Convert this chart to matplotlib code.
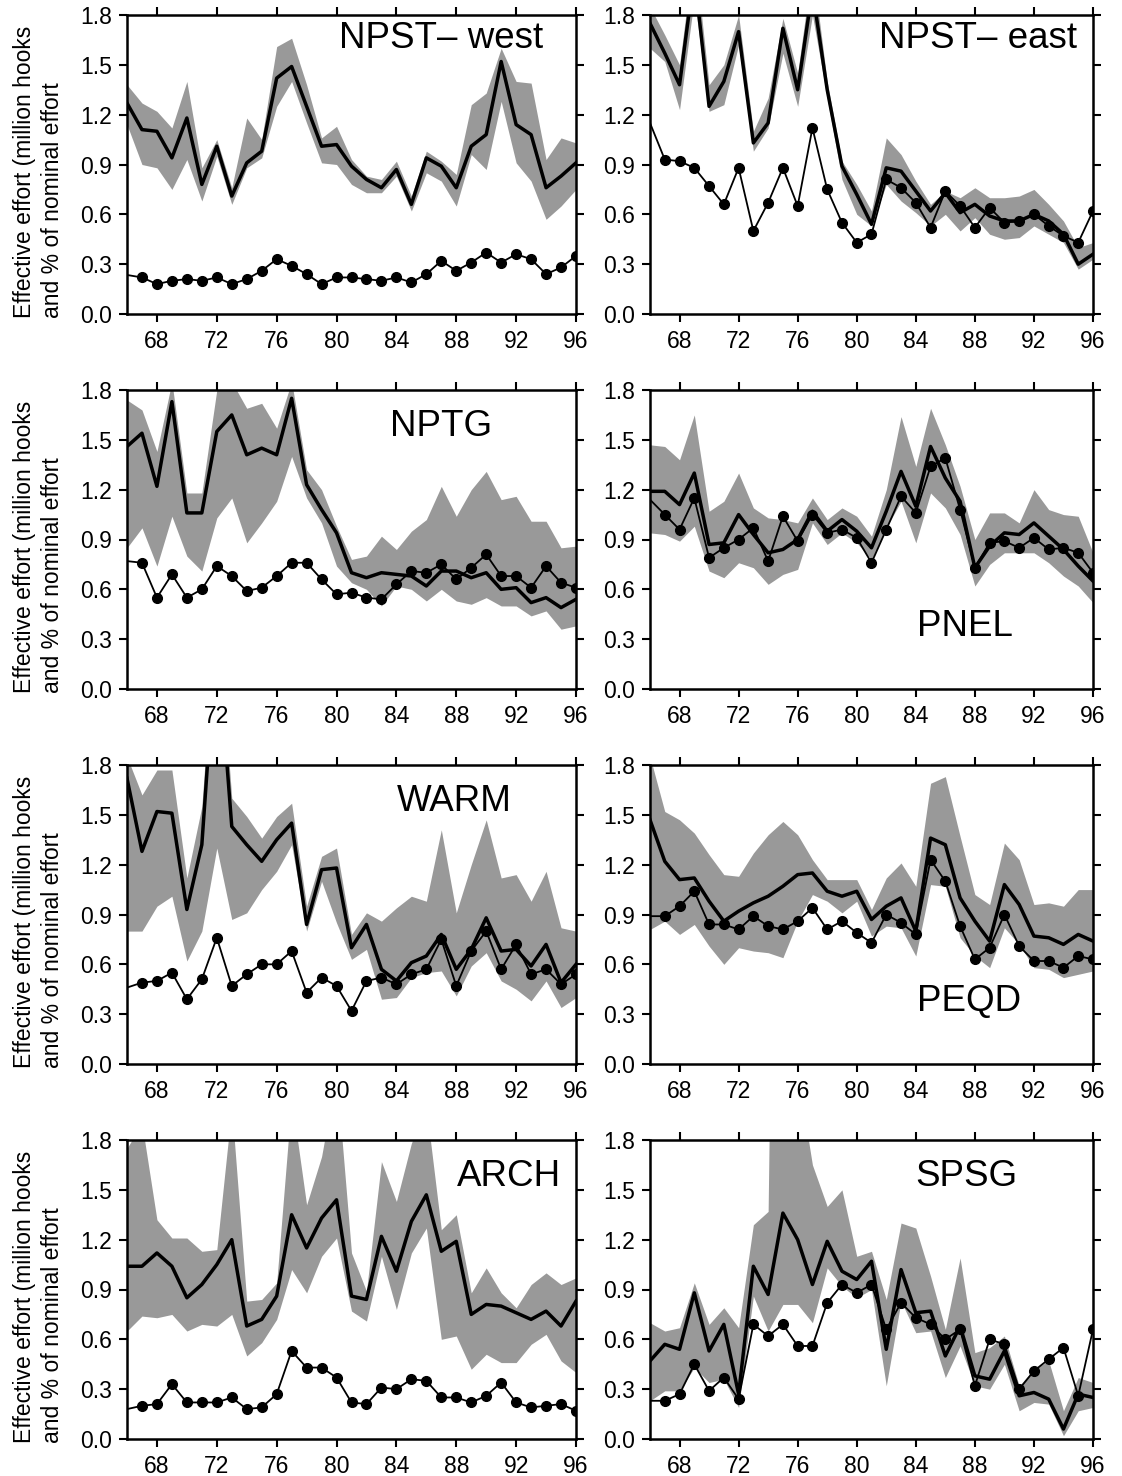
import matplotlib
matplotlib.use("Agg")
import matplotlib.pyplot as plt
from matplotlib.ticker import FormatStrFormatter

plt.rcParams["font.family"] = ["Liberation Sans", "DejaVu Sans"]

YEARS = list(range(66, 97))

# Each region: band low / band high, effective effort (thick line), nominal effort (dots)
npst_west_lo = [1.14, 0.90, 0.88, 0.75, 0.93, 0.68, 0.95, 0.66, 0.88, 0.94, 1.25, 1.40, 1.15, 0.91, 0.90, 0.78,
                0.73, 0.73, 0.83, 0.62, 0.85, 0.80, 0.65, 0.96, 0.87, 1.28, 0.91, 0.80, 0.57, 0.65, 0.75]
npst_west_hi = [1.38, 1.27, 1.22, 1.12, 1.40, 0.88, 1.05, 0.76, 1.18, 1.05, 1.61, 1.66, 1.38, 1.06, 1.13, 0.93,
                0.83, 0.81, 0.92, 0.71, 0.98, 0.92, 0.84, 1.26, 1.33, 1.60, 1.40, 1.39, 0.93, 1.06, 1.03]
npst_west_eff = [1.27, 1.11, 1.10, 0.94, 1.18, 0.78, 1.01, 0.71, 0.91, 0.98, 1.42, 1.49, 1.25, 1.01, 1.02, 0.89,
                 0.81, 0.76, 0.87, 0.66, 0.94, 0.89, 0.76, 1.01, 1.08, 1.52, 1.14, 1.08, 0.76, 0.83, 0.91]
npst_west_nom = [0.235, 0.22, 0.18, 0.20, 0.21, 0.20, 0.22, 0.18, 0.21, 0.26, 0.33, 0.29, 0.24, 0.18, 0.22, 0.22,
                 0.21, 0.20, 0.22, 0.19, 0.24, 0.32, 0.26, 0.31, 0.37, 0.31, 0.36, 0.33, 0.24, 0.28, 0.35]

npst_east_lo = [1.60, 1.52, 1.23, 1.90, 1.22, 1.26, 1.62, 0.98, 1.12, 1.57, 1.25, 1.80, 1.30, 0.81, 0.60, 0.53,
                0.78, 0.68, 0.61, 0.53, 0.60, 0.50, 0.58, 0.48, 0.45, 0.46, 0.53, 0.48, 0.43, 0.27, 0.33]
npst_east_hi = [1.85, 1.68, 1.50, 2.20, 1.38, 1.50, 1.80, 1.10, 1.30, 1.78, 1.45, 2.10, 1.40, 0.92, 0.78, 0.62,
                1.06, 0.96, 0.80, 0.66, 0.74, 0.70, 0.76, 0.70, 0.70, 0.71, 0.75, 0.66, 0.56, 0.40, 0.43]
npst_east_eff = [1.75, 1.57, 1.38, 2.05, 1.25, 1.40, 1.70, 1.03, 1.15, 1.72, 1.35, 1.95, 1.35, 0.89, 0.72, 0.54,
                 0.88, 0.86, 0.74, 0.62, 0.73, 0.61, 0.66, 0.59, 0.56, 0.56, 0.60, 0.56, 0.48, 0.30, 0.36]
npst_east_nom = [1.15, 0.93, 0.92, 0.88, 0.77, 0.66, 0.88, 0.50, 0.67, 0.88, 0.65, 1.12, 0.75, 0.55, 0.43, 0.48,
                 0.81, 0.76, 0.67, 0.52, 0.74, 0.65, 0.52, 0.64, 0.55, 0.56, 0.60, 0.53, 0.47, 0.43, 0.62]

nptg_lo = [0.85, 0.97, 0.74, 1.04, 0.80, 0.71, 1.03, 1.15, 0.88, 1.00, 1.13, 1.40, 1.15, 1.00, 0.74, 0.64,
           0.60, 0.50, 0.62, 0.60, 0.53, 0.60, 0.53, 0.51, 0.55, 0.50, 0.50, 0.44, 0.47, 0.36, 0.38]
nptg_hi = [1.74, 1.68, 1.43, 1.85, 1.18, 1.18, 1.80, 1.85, 1.69, 1.72, 1.57, 1.85, 1.32, 1.20, 0.98, 0.78,
           0.80, 0.92, 0.84, 0.95, 1.02, 1.22, 1.04, 1.20, 1.31, 1.14, 1.16, 1.01, 1.01, 0.85, 0.86]
nptg_eff = [1.46, 1.54, 1.22, 1.73, 1.06, 1.06, 1.55, 1.65, 1.41, 1.45, 1.41, 1.75, 1.23, 1.08, 0.94, 0.70,
            0.67, 0.70, 0.69, 0.68, 0.62, 0.71, 0.71, 0.67, 0.70, 0.60, 0.61, 0.52, 0.55, 0.49, 0.54]
nptg_nom = [0.77, 0.76, 0.55, 0.69, 0.55, 0.60, 0.74, 0.68, 0.59, 0.61, 0.68, 0.76, 0.76, 0.66, 0.57, 0.58,
            0.55, 0.54, 0.63, 0.71, 0.70, 0.75, 0.66, 0.73, 0.81, 0.68, 0.68, 0.61, 0.74, 0.64, 0.61]

pnel_lo = [0.94, 0.93, 0.89, 0.98, 0.71, 0.67, 0.76, 0.73, 0.63, 0.69, 0.72, 1.00, 0.87, 0.94, 0.88, 0.78,
           0.97, 1.13, 0.88, 1.18, 1.09, 0.93, 0.62, 0.75, 0.82, 0.82, 0.82, 0.76, 0.68, 0.62, 0.52]
pnel_hi = [1.47, 1.46, 1.38, 1.65, 1.07, 1.13, 1.30, 1.09, 1.03, 1.02, 1.00, 1.15, 1.02, 1.09, 1.04, 0.92,
           1.20, 1.64, 1.34, 1.69, 1.47, 1.22, 0.90, 1.06, 1.06, 1.00, 1.20, 1.08, 1.05, 1.04, 0.82]
pnel_eff = [1.19, 1.19, 1.11, 1.30, 0.87, 0.88, 1.05, 0.93, 0.82, 0.84, 0.90, 1.07, 0.95, 1.02, 0.95, 0.85,
            1.07, 1.31, 1.10, 1.46, 1.27, 1.13, 0.73, 0.86, 0.94, 0.93, 1.00, 0.92, 0.84, 0.74, 0.65]
pnel_nom = [1.14, 1.05, 0.96, 1.15, 0.79, 0.85, 0.90, 0.97, 0.77, 1.04, 0.89, 1.05, 0.94, 0.96, 0.91, 0.76,
            0.96, 1.16, 1.06, 1.34, 1.39, 1.08, 0.73, 0.88, 0.89, 0.85, 0.91, 0.84, 0.85, 0.82, 0.70]

warm_lo = [0.80, 0.80, 0.95, 1.01, 0.62, 0.80, 1.30, 0.87, 0.91, 1.05, 1.16, 1.32, 0.80, 1.10, 0.85, 0.63,
           0.69, 0.39, 0.40, 0.52, 0.55, 0.56, 0.41, 0.59, 0.67, 0.50, 0.45, 0.38, 0.50, 0.34, 0.40]
warm_hi = [1.85, 1.62, 1.77, 1.77, 1.12, 1.55, 2.80, 1.60, 1.49, 1.36, 1.49, 1.57, 0.95, 1.25, 1.30, 0.78,
           0.91, 0.86, 0.94, 1.01, 0.98, 1.41, 0.91, 1.20, 1.47, 1.12, 1.14, 0.98, 1.16, 0.82, 0.80]
warm_eff = [1.72, 1.28, 1.52, 1.51, 0.93, 1.32, 2.60, 1.43, 1.32, 1.22, 1.35, 1.45, 0.84, 1.17, 1.18, 0.70,
            0.84, 0.57, 0.50, 0.61, 0.65, 0.78, 0.57, 0.69, 0.88, 0.68, 0.69, 0.59, 0.72, 0.49, 0.60]
warm_nom = [0.46, 0.49, 0.50, 0.55, 0.39, 0.51, 0.76, 0.47, 0.54, 0.60, 0.60, 0.68, 0.43, 0.52, 0.47, 0.32,
            0.50, 0.52, 0.48, 0.54, 0.57, 0.75, 0.47, 0.68, 0.80, 0.57, 0.72, 0.54, 0.57, 0.48, 0.54]

peqd_lo = [0.81, 0.86, 0.78, 0.84, 0.71, 0.60, 0.70, 0.68, 0.67, 0.64, 0.86, 1.02, 0.98, 0.91, 0.98, 0.77,
           0.83, 0.82, 0.65, 1.08, 1.07, 0.76, 0.65, 0.58, 0.82, 0.72, 0.58, 0.57, 0.52, 0.54, 0.56]
peqd_hi = [1.85, 1.52, 1.47, 1.39, 1.26, 1.14, 1.13, 1.27, 1.38, 1.46, 1.38, 1.23, 1.11, 1.11, 1.11, 0.93,
           1.12, 1.21, 1.07, 1.69, 1.73, 1.37, 1.02, 0.96, 1.33, 1.23, 0.96, 0.97, 0.95, 1.05, 1.05]
peqd_eff = [1.47, 1.22, 1.11, 1.12, 0.98, 0.86, 0.92, 0.97, 1.01, 1.07, 1.14, 1.15, 1.04, 1.01, 1.04, 0.87,
            0.95, 1.00, 0.80, 1.36, 1.32, 1.00, 0.86, 0.74, 1.08, 0.96, 0.77, 0.76, 0.72, 0.78, 0.74]
peqd_nom = [0.89, 0.89, 0.95, 1.04, 0.84, 0.84, 0.81, 0.89, 0.83, 0.81, 0.86, 0.94, 0.81, 0.86, 0.79, 0.73,
            0.90, 0.85, 0.78, 1.23, 1.10, 0.83, 0.63, 0.70, 0.90, 0.71, 0.62, 0.62, 0.58, 0.65, 0.63]

arch_lo = [0.65, 0.74, 0.73, 0.75, 0.65, 0.69, 0.68, 0.75, 0.50, 0.58, 0.72, 1.02, 0.88, 1.10, 1.21, 0.77,
           0.71, 1.10, 0.78, 1.12, 1.27, 0.60, 0.62, 0.42, 0.51, 0.46, 0.46, 0.57, 0.63, 0.47, 0.40]
arch_hi = [1.75, 1.90, 1.32, 1.21, 1.21, 1.13, 1.14, 2.00, 0.83, 0.84, 0.94, 2.05, 1.41, 1.70, 2.20, 1.12,
           0.89, 1.67, 1.43, 1.78, 2.00, 1.26, 1.35, 0.88, 1.03, 0.88, 0.79, 0.93, 1.00, 0.93, 0.97]
arch_eff = [1.04, 1.04, 1.12, 1.04, 0.85, 0.93, 1.05, 1.20, 0.68, 0.72, 0.86, 1.35, 1.15, 1.33, 1.44, 0.86,
            0.84, 1.22, 1.01, 1.31, 1.47, 1.13, 1.19, 0.75, 0.81, 0.80, 0.76, 0.72, 0.77, 0.68, 0.83]
arch_nom = [0.18, 0.20, 0.21, 0.33, 0.22, 0.22, 0.22, 0.25, 0.18, 0.19, 0.27, 0.53, 0.43, 0.43, 0.37, 0.22,
            0.21, 0.31, 0.30, 0.36, 0.35, 0.25, 0.25, 0.22, 0.26, 0.34, 0.22, 0.19, 0.20, 0.21, 0.17]

spsg_lo = [0.23, 0.29, 0.29, 0.43, 0.34, 0.36, 0.19, 0.86, 0.65, 0.81, 0.81, 0.70, 1.03, 0.92, 0.85, 0.90,
           0.32, 0.83, 0.64, 0.65, 0.37, 0.56, 0.32, 0.30, 0.45, 0.17, 0.22, 0.21, 0.02, 0.17, 0.19]
spsg_hi = [0.70, 0.65, 0.67, 0.94, 0.69, 0.79, 0.67, 1.29, 1.37, 8.00, 2.20, 1.65, 1.40, 1.50, 1.10, 1.13,
           0.84, 1.30, 1.27, 0.98, 0.66, 1.09, 0.52, 0.55, 0.62, 0.32, 0.42, 0.47, 0.17, 0.37, 0.34]
spsg_eff = [0.47, 0.57, 0.54, 0.88, 0.53, 0.69, 0.27, 1.04, 0.87, 1.36, 1.20, 0.93, 1.19, 1.01, 0.96, 1.07,
            0.54, 1.02, 0.76, 0.77, 0.50, 0.68, 0.38, 0.36, 0.53, 0.26, 0.28, 0.24, 0.06, 0.27, 0.25]
spsg_nom = [0.23, 0.23, 0.27, 0.45, 0.29, 0.37, 0.24, 0.69, 0.62, 0.69, 0.56, 0.56, 0.82, 0.93, 0.88, 0.93,
            0.66, 0.82, 0.73, 0.69, 0.60, 0.66, 0.32, 0.60, 0.57, 0.30, 0.41, 0.48, 0.55, 0.26, 0.66]

NAMES = ["NPST\u2013 west", "NPST\u2013 east", "NPTG", "PNEL", "WARM", "PEQD", "ARCH", "SPSG"]
SERIES = [
    (npst_west_lo, npst_west_hi, npst_west_eff, npst_west_nom),
    (npst_east_lo, npst_east_hi, npst_east_eff, npst_east_nom),
    (nptg_lo, nptg_hi, nptg_eff, nptg_nom),
    (pnel_lo, pnel_hi, pnel_eff, pnel_nom),
    (warm_lo, warm_hi, warm_eff, warm_nom),
    (peqd_lo, peqd_hi, peqd_eff, peqd_nom),
    (arch_lo, arch_hi, arch_eff, arch_nom),
    (spsg_lo, spsg_hi, spsg_eff, spsg_nom),
]
# where each region name sits, in axes fraction
LABEL_POS = [(0.70, 0.92), (0.74, 0.92), (0.70, 0.877), (0.71, 0.21),
             (0.73, 0.877), (0.72, 0.21), (0.85, 0.877), (0.715, 0.877)]

W, H = 1122, 1476
fig = plt.figure(figsize=(W / 100, H / 100), dpi=100)

col_x = [(127, 449), (650, 443)]
row_top = [15, 390, 765, 1140]
ax_h = 299

for i, (name, (lo, hi, eff, nom)) in enumerate(zip(NAMES, SERIES)):
    row, col = divmod(i, 2)
    x0, w = col_x[col]
    ax = fig.add_axes([x0 / W, 1 - (row_top[row] + ax_h) / H, w / W, ax_h / H])

    ax.fill_between(YEARS, lo, hi, color="#999999", lw=0)
    ax.plot(YEARS, eff, color="black", lw=2.5)
    ax.plot(YEARS, nom, color="black", lw=1.3, marker="o", ms=7, markevery=slice(1, None))

    ax.set_xlim(66, 96)
    ax.set_ylim(0, 1.8)
    ax.set_xticks(range(68, 97, 4))
    ax.set_yticks([0.0, 0.3, 0.6, 0.9, 1.2, 1.5, 1.8])
    ax.yaxis.set_major_formatter(FormatStrFormatter("%.1f"))
    ax.tick_params(direction="out", length=5.5, width=1.5, labelsize=16.5,
                   top=True, right=True)
    ax.tick_params(axis="y", pad=5)
    ax.tick_params(axis="x", pad=6)
    for sp in ax.spines.values():
        sp.set_linewidth(1.8)

    tx, ty = LABEL_POS[i]
    ax.text(tx, ty, name, transform=ax.transAxes, fontsize=26.5,
            ha="center", va="center")

    if col == 0:
        ax.set_ylabel("Effective effort (million hooks\nand % of nominal effort",
                      fontsize=16.5, multialignment="left", linespacing=1.3)
        ax.yaxis.set_label_coords(-0.14, 0.475)

fig.savefig("out.png", dpi=100)
